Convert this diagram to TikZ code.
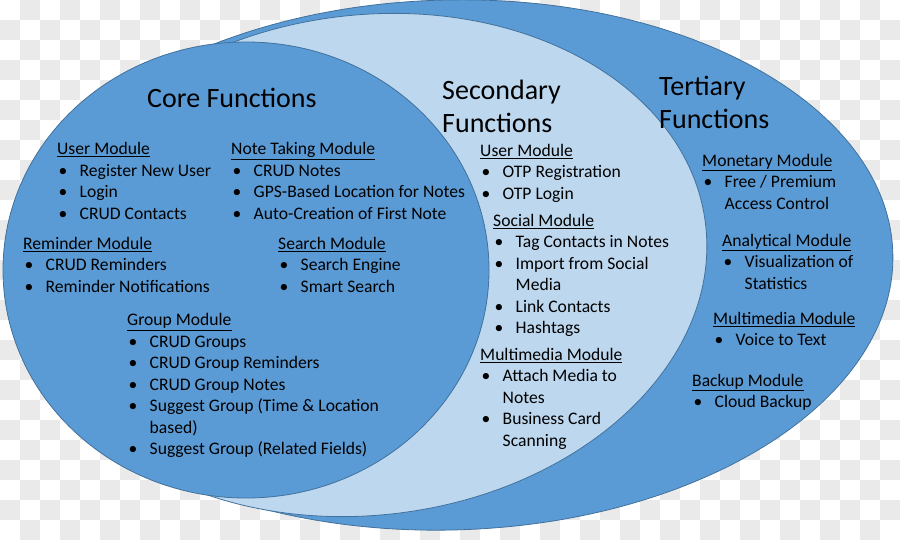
\documentclass[tikz,border=0pt]{standalone}
\usepackage{fontspec}
\setmainfont{Carlito}
\definecolor{ringdark}{RGB}{91,155,213}
\definecolor{ringlight}{RGB}{189,215,238}
\definecolor{ringline}{RGB}{65,113,156}
\definecolor{checkgray}{RGB}{234,234,234}
\newcommand{\bodyfont}{\fontsize{17.6}{21.5}\selectfont}
\newcommand{\titlefont}{\fontsize{28}{33}\selectfont}
\newcommand{\bl}{\hspace*{1.5pt}\makebox[21pt][l]{\textbullet}}
\newcommand{\cont}{\hspace*{22.5pt}}

\begin{document}
\begin{tikzpicture}[
  x=1pt, y=1pt,
  darkring/.style={fill=ringdark, draw=ringline, line width=0.8pt},
  lightring/.style={fill=ringlight, draw=ringline, line width=0.8pt},
  title/.style={anchor=north west, inner sep=0pt, align=left, font=\titlefont},
  module/.style={anchor=north west, inner sep=0pt, align=left, font=\bodyfont}
]
\useasboundingbox (0,0) rectangle (900,-540);
\clip (0,0) rectangle (900,-540);
\fill[white] (0,0) rectangle (900,-540);

% checkered backdrop
\foreach \j in {0,...,26} {
  \pgfmathtruncatemacro{\shift}{mod(\j+1,2)}
  \foreach \i in {0,...,22}
    \fill[checkgray] ({20*(2*\i+\shift)},{-20*\j}) rectangle ++(20,-20);
}

% the three rings
\draw[darkring, rotate around={1.5:(449,-265)}] (449,-265) ellipse [x radius=444, y radius=265];
\draw[lightring, rotate around={7:(368,-265)}] (368,-265) ellipse [x radius=340, y radius=250];
\draw[darkring] (246,-270) ellipse [x radius=243, y radius=228];

% core functions
\node[title] (coreTitle) at (147,-84) {\strut Core Functions};
\node[module] (coreUser) at (57,-139.5) {\strut\underline{User Module}\\
  \bl Register New User\\ \bl Login\\ \bl CRUD Contacts};
\node[module] (coreNote) at (231,-139.5) {\strut\underline{Note Taking Module}\\
  \bl CRUD Notes\\ \bl GPS-Based Location for Notes\\ \bl Auto-Creation of First Note};
\node[module] (coreRemind) at (23,-234) {\strut\underline{Reminder Module}\\
  \bl CRUD Reminders\\ \bl Reminder Notifications};
\node[module] (coreSearch) at (278,-234) {\strut\underline{Search Module}\\
  \bl Search Engine\\ \bl Smart Search};
\node[module] (coreGroup) at (127,-310.5) {\strut\underline{Group Module}\\
  \bl CRUD Groups\\ \bl CRUD Group Reminders\\ \bl CRUD Group Notes\\
  \bl Suggest Group (Time \& Location\\ \cont based)\\ \bl Suggest Group (Related Fields)};

% secondary functions
\node[title] (secTitle) at (442,-76) {\strut Secondary\\ Functions};
\node[module] (secUser) at (480,-141) {\strut\underline{User Module}\\
  \bl OTP Registration\\ \bl OTP Login};
\node[module] (secSocial) at (493,-211) {\strut\underline{Social Module}\\
  \bl Tag Contacts in Notes\\ \bl Import from Social\\ \cont Media\\
  \bl Link Contacts\\ \bl Hashtags};
\node[module] (secMedia) at (480,-345) {\strut\underline{Multimedia Module}\\
  \bl Attach Media to\\ \cont Notes\\ \bl Business Card\\ \cont Scanning};

% tertiary functions
\node[title] (terTitle) at (659,-72) {\strut Tertiary\\ Functions};
\node[module] (terMoney) at (702,-151) {\strut\underline{Monetary Module}\\
  \bl Free / Premium\\ \cont Access Control};
\node[module] (terStats) at (722,-231) {\strut\underline{Analytical Module}\\
  \bl Visualization of\\ \cont Statistics};
\node[module] (terMedia) at (713,-309) {\strut\underline{Multimedia Module}\\
  \bl Voice to Text};
\node[module] (terBackup) at (692,-371) {\strut\underline{Backup Module}\\
  \bl Cloud Backup};

\end{tikzpicture}
\end{document}
